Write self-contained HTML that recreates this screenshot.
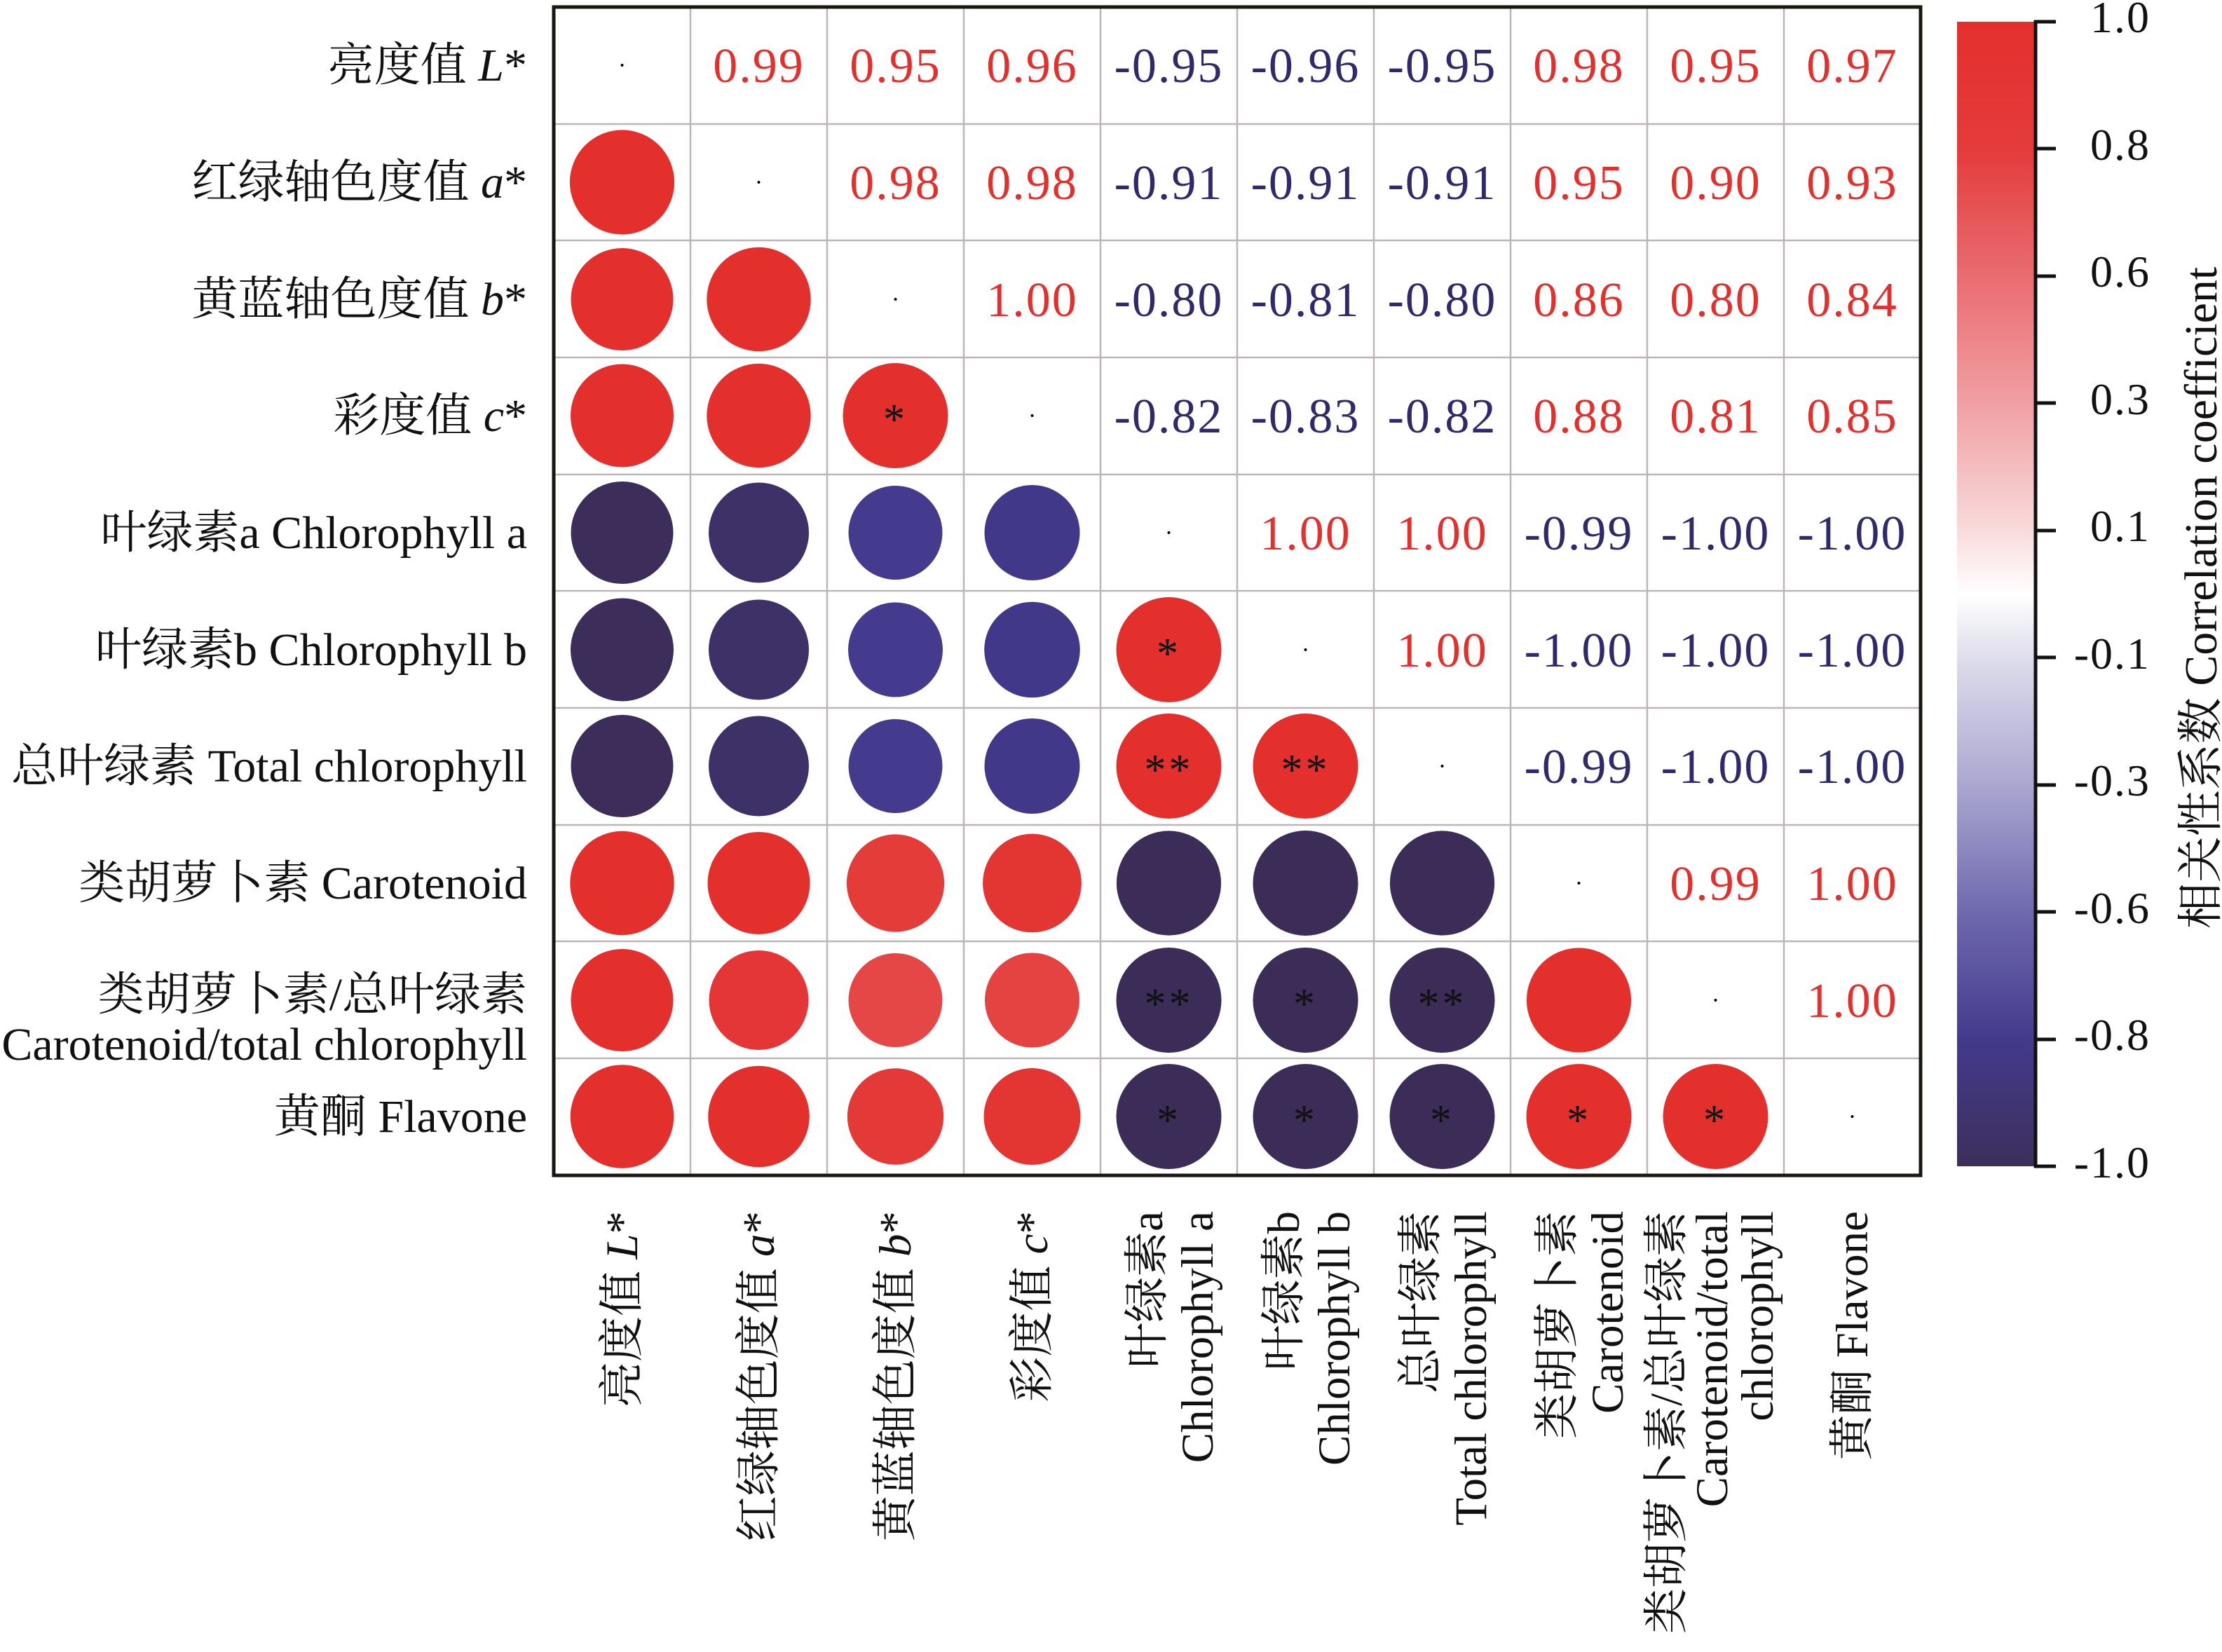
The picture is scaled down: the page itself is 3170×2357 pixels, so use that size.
<!DOCTYPE html>
<html><head><meta charset="utf-8"><style>html,body{margin:0;padding:0;background:#fff}svg{display:block}</style></head><body>
<svg width="3170" height="2357" viewBox="0 0 3170 2357" xmlns="http://www.w3.org/2000/svg" font-family="'Liberation Serif','Noto Serif CJK SC',serif">
<defs><linearGradient id="cb" x1="0" y1="0" x2="0" y2="1">
<stop offset="0" stop-color="#e3302d"/><stop offset="0.11" stop-color="#e43b3b"/><stop offset="0.22" stop-color="#e96b70"/><stop offset="0.33" stop-color="#f09ea2"/><stop offset="0.44" stop-color="#f8d8d9"/><stop offset="0.5" stop-color="#ffffff"/><stop offset="0.56" stop-color="#dcdbeb"/><stop offset="0.67" stop-color="#a9a5cf"/><stop offset="0.78" stop-color="#6e68ae"/><stop offset="0.89" stop-color="#433a8c"/><stop offset="1" stop-color="#3d2f5a"/></linearGradient></defs>
<g stroke="#bdb6b6" stroke-width="2.5">
<line x1="985" y1="10" x2="985" y2="1677"/><line x1="1180" y1="10" x2="1180" y2="1677"/><line x1="1375" y1="10" x2="1375" y2="1677"/><line x1="1570" y1="10" x2="1570" y2="1677"/><line x1="1765" y1="10" x2="1765" y2="1677"/><line x1="1960" y1="10" x2="1960" y2="1677"/><line x1="2155" y1="10" x2="2155" y2="1677"/><line x1="2350" y1="10" x2="2350" y2="1677"/><line x1="2545" y1="10" x2="2545" y2="1677"/>
<line x1="790" y1="177" x2="2740" y2="177"/><line x1="790" y1="343" x2="2740" y2="343"/><line x1="790" y1="510" x2="2740" y2="510"/><line x1="790" y1="677" x2="2740" y2="677"/><line x1="790" y1="843" x2="2740" y2="843"/><line x1="790" y1="1010" x2="2740" y2="1010"/><line x1="790" y1="1177" x2="2740" y2="1177"/><line x1="790" y1="1343" x2="2740" y2="1343"/><line x1="790" y1="1510" x2="2740" y2="1510"/>
</g>
<rect x="790" y="10" width="1950" height="1667" fill="none" stroke="#1a1612" stroke-width="5"/>
<g fill="#000">
<circle cx="887.5" cy="93" r="2"/><circle cx="1082.5" cy="260" r="2"/><circle cx="1277.5" cy="427" r="2"/><circle cx="1472.5" cy="593" r="2"/><circle cx="1667.5" cy="760" r="2"/><circle cx="1862.5" cy="927" r="2"/><circle cx="2057.5" cy="1093" r="2"/><circle cx="2252.5" cy="1260" r="2"/><circle cx="2447.5" cy="1427" r="2"/><circle cx="2642.5" cy="1593" r="2"/>
</g>
<g>
<circle cx="887.5" cy="260" r="74.6" fill="#e3302d"/>
<circle cx="887.5" cy="427" r="73" fill="#e3302d"/><circle cx="1082.5" cy="427" r="74.2" fill="#e3302d"/>
<circle cx="887.5" cy="593" r="73.5" fill="#e3302d"/><circle cx="1082.5" cy="593" r="74.2" fill="#e3302d"/><circle cx="1277.5" cy="593" r="75" fill="#e3302d"/>
<circle cx="887.5" cy="760" r="73" fill="#3c2d5a"/><circle cx="1082.5" cy="760" r="71.5" fill="#3d3168"/><circle cx="1277.5" cy="760" r="67" fill="#443b8e"/><circle cx="1472.5" cy="760" r="68" fill="#41388a"/>
<circle cx="887.5" cy="927" r="73.5" fill="#3c2d5a"/><circle cx="1082.5" cy="927" r="71.5" fill="#3d3168"/><circle cx="1277.5" cy="927" r="67.5" fill="#443b8e"/><circle cx="1472.5" cy="927" r="68.3" fill="#41388a"/><circle cx="1667.5" cy="927" r="75" fill="#e3302d"/>
<circle cx="887.5" cy="1093" r="73" fill="#3c2d5a"/><circle cx="1082.5" cy="1093" r="71.5" fill="#3d3168"/><circle cx="1277.5" cy="1093" r="67" fill="#443b8e"/><circle cx="1472.5" cy="1093" r="68" fill="#41388a"/><circle cx="1667.5" cy="1093" r="75" fill="#e3302d"/><circle cx="1862.5" cy="1093" r="75" fill="#e3302d"/>
<circle cx="887.5" cy="1260" r="74.2" fill="#e3302d"/><circle cx="1082.5" cy="1260" r="73" fill="#e3302d"/><circle cx="1277.5" cy="1260" r="69.6" fill="#e43c38"/><circle cx="1472.5" cy="1260" r="70.4" fill="#e33633"/><circle cx="1667.5" cy="1260" r="74.6" fill="#3b2c58"/><circle cx="1862.5" cy="1260" r="75" fill="#3b2c58"/><circle cx="2057.5" cy="1260" r="74.6" fill="#3b2c58"/>
<circle cx="887.5" cy="1427" r="73" fill="#e3302d"/><circle cx="1082.5" cy="1427" r="71" fill="#e43636"/><circle cx="1277.5" cy="1427" r="67" fill="#e54646"/><circle cx="1472.5" cy="1427" r="67.5" fill="#e54242"/><circle cx="1667.5" cy="1427" r="75" fill="#3b2c58"/><circle cx="1862.5" cy="1427" r="75" fill="#3b2c58"/><circle cx="2057.5" cy="1427" r="75" fill="#3b2c58"/><circle cx="2252.5" cy="1427" r="74.6" fill="#e3302d"/>
<circle cx="887.5" cy="1593" r="73.8" fill="#e3302d"/><circle cx="1082.5" cy="1593" r="72.3" fill="#e3302d"/><circle cx="1277.5" cy="1593" r="68.7" fill="#e43a37"/><circle cx="1472.5" cy="1593" r="69" fill="#e33633"/><circle cx="1667.5" cy="1593" r="75" fill="#3b2c58"/><circle cx="1862.5" cy="1593" r="75" fill="#3b2c58"/><circle cx="2057.5" cy="1593" r="75" fill="#3b2c58"/><circle cx="2252.5" cy="1593" r="75" fill="#e3302d"/><circle cx="2447.5" cy="1593" r="75" fill="#e3302d"/>
</g>
<g font-size="62" text-anchor="middle" fill="#111" letter-spacing="4">
<text x="1277.5" y="619">*</text><text x="1667.5" y="953">*</text><text x="1667.5" y="1119">**</text><text x="1862.5" y="1119">**</text>
<text x="1667.5" y="1453">**</text><text x="1862.5" y="1453">*</text><text x="2057.5" y="1453">**</text>
<text x="1667.5" y="1619">*</text><text x="1862.5" y="1619">*</text><text x="2057.5" y="1619">*</text><text x="2252.5" y="1619">*</text><text x="2447.5" y="1619">*</text>
</g>
<g font-size="70" text-anchor="middle" letter-spacing="2">
<g fill="#e3302d">
<text x="1082.5" y="117">0.99</text><text x="1277.5" y="117">0.95</text><text x="1472.5" y="117">0.96</text><text x="2252.5" y="117">0.98</text><text x="2447.5" y="117">0.95</text><text x="2642.5" y="117">0.97</text>
<text x="1277.5" y="284">0.98</text><text x="1472.5" y="284">0.98</text><text x="2252.5" y="284">0.95</text><text x="2447.5" y="284">0.90</text><text x="2642.5" y="284">0.93</text>
<text x="1472.5" y="451">1.00</text><text x="2252.5" y="451">0.86</text><text x="2447.5" y="451">0.80</text><text x="2642.5" y="451">0.84</text>
<text x="2252.5" y="617">0.88</text><text x="2447.5" y="617">0.81</text><text x="2642.5" y="617">0.85</text>
<text x="1862.5" y="784">1.00</text><text x="2057.5" y="784">1.00</text>
<text x="2057.5" y="951">1.00</text>
<text x="2447.5" y="1284">0.99</text><text x="2642.5" y="1284">1.00</text>
<text x="2642.5" y="1451">1.00</text>
</g>
<g fill="#2e2a6b">
<text x="1667.5" y="117">-0.95</text><text x="1862.5" y="117">-0.96</text><text x="2057.5" y="117">-0.95</text>
<text x="1667.5" y="284">-0.91</text><text x="1862.5" y="284">-0.91</text><text x="2057.5" y="284">-0.91</text>
<text x="1667.5" y="451">-0.80</text><text x="1862.5" y="451">-0.81</text><text x="2057.5" y="451">-0.80</text>
<text x="1667.5" y="617">-0.82</text><text x="1862.5" y="617">-0.83</text><text x="2057.5" y="617">-0.82</text>
<text x="2252.5" y="784">-0.99</text><text x="2447.5" y="784">-1.00</text><text x="2642.5" y="784">-1.00</text>
<text x="2252.5" y="951">-1.00</text><text x="2447.5" y="951">-1.00</text><text x="2642.5" y="951">-1.00</text>
<text x="2252.5" y="1117">-0.99</text><text x="2447.5" y="1117">-1.00</text><text x="2642.5" y="1117">-1.00</text>
</g>
</g>
<g font-size="66" text-anchor="end" fill="#111">
<text x="752" y="115">亮度值 <tspan font-style="italic">L</tspan>*</text>
<text x="752" y="282">红绿轴色度值 <tspan font-style="italic">a</tspan>*</text>
<text x="752" y="449">黄蓝轴色度值 <tspan font-style="italic">b</tspan>*</text>
<text x="752" y="615">彩度值 <tspan font-style="italic">c</tspan>*</text>
<text x="752" y="782">叶绿素a Chlorophyll a</text>
<text x="752" y="949">叶绿素b Chlorophyll b</text>
<text x="752" y="1115">总叶绿素 Total chlorophyll</text>
<text x="752" y="1282">类胡萝卜素 Carotenoid</text>
<text x="752" y="1441">类胡萝卜素/总叶绿素</text>
<text x="752" y="1512">Carotenoid/total chlorophyll</text>
<text x="752" y="1615">黄酮 Flavone</text>
</g>
<g font-size="65" text-anchor="end" fill="#111">
<text transform="translate(909,1728) rotate(-90)">亮度值 <tspan font-style="italic">L</tspan>*</text>
<text transform="translate(1104,1728) rotate(-90)">红绿轴色度值 <tspan font-style="italic">a</tspan>*</text>
<text transform="translate(1299,1728) rotate(-90)">黄蓝轴色度值 <tspan font-style="italic">b</tspan>*</text>
<text transform="translate(1494,1728) rotate(-90)">彩度值 <tspan font-style="italic">c</tspan>*</text>
<text transform="translate(1658,1728) rotate(-90)">叶绿素a</text>
<text transform="translate(1730,1728) rotate(-90)">Chlorophyll a</text>
<text transform="translate(1853,1728) rotate(-90)">叶绿素b</text>
<text transform="translate(1925,1728) rotate(-90)">Chlorophyll b</text>
<text transform="translate(2048,1728) rotate(-90)">总叶绿素</text>
<text transform="translate(2120,1728) rotate(-90)">Total chlorophyll</text>
<text transform="translate(2243,1728) rotate(-90)">类胡萝卜素</text>
<text transform="translate(2315,1728) rotate(-90)">Carotenoid</text>
<text transform="translate(2399,1728) rotate(-90)">类胡萝卜素/总叶绿素</text>
<text transform="translate(2464,1728) rotate(-90)">Carotenoid/total</text>
<text transform="translate(2529,1728) rotate(-90)">chlorophyll</text>
<text transform="translate(2664,1728) rotate(-90)">黄酮 Flavone</text>
</g>
<rect x="2792" y="31" width="110" height="1633" fill="url(#cb)"/>
<g stroke="#111" stroke-width="5">
<line x1="2904" y1="29" x2="2904" y2="1666"/>
<line x1="2902" y1="31" x2="2933" y2="31"/><line x1="2902" y1="212" x2="2933" y2="212"/><line x1="2902" y1="394" x2="2933" y2="394"/><line x1="2902" y1="575" x2="2933" y2="575"/><line x1="2902" y1="757" x2="2933" y2="757"/><line x1="2902" y1="938" x2="2933" y2="938"/><line x1="2902" y1="1120" x2="2933" y2="1120"/><line x1="2902" y1="1301" x2="2933" y2="1301"/><line x1="2902" y1="1483" x2="2933" y2="1483"/><line x1="2902" y1="1664" x2="2933" y2="1664"/>
</g>
<g font-size="64" fill="#111" text-anchor="end" letter-spacing="2">
<text x="3068" y="46">1.0</text><text x="3068" y="228">0.8</text><text x="3068" y="409">0.6</text><text x="3068" y="591">0.3</text><text x="3068" y="772">0.1</text><text x="3068" y="954">-0.1</text><text x="3068" y="1135">-0.3</text><text x="3068" y="1317">-0.6</text><text x="3068" y="1498">-0.8</text><text x="3068" y="1680">-1.0</text>
</g>
<text transform="translate(3162,853) rotate(-90)" font-size="66" text-anchor="middle" fill="#111">相关性系数 Correlation coefficient</text>
</svg>
</body></html>
